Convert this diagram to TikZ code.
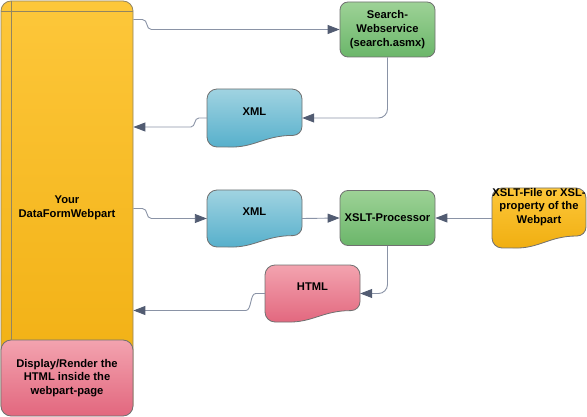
\documentclass[tikz,border=0pt]{standalone}
\usepackage{fontspec}
\setmainfont{Liberation Sans}
\usepackage{tikz}
\usetikzlibrary{arrows.meta}
\definecolor{edge}{HTML}{707070}
\definecolor{wire}{HTML}{8A93A6}
\definecolor{tip}{HTML}{525C72}
\definecolor{ytop}{HTML}{FDC73A}
\definecolor{ybot}{HTML}{F0AE10}
\definecolor{yedge}{HTML}{938560}
\definecolor{gtop}{HTML}{9DD296}
\definecolor{gbot}{HTML}{6BB66A}
\definecolor{btop}{HTML}{A0D3E1}
\definecolor{bbot}{HTML}{55AFCB}
\definecolor{ptop}{HTML}{F3A3AF}
\definecolor{pbot}{HTML}{E2677E}
\tikzset{
  lbl/.style={font=\bfseries\fontsize{11.2}{13.8}\selectfont, align=center, text=black},
  conn/.style={draw=wire, line width=0.9pt, -{Triangle[length=12pt,width=9pt,color=tip]}},
  procbox/.style={lbl, rounded corners=8pt, draw=edge, line width=0.8pt, top color=gtop, bottom color=gbot,
    minimum width=95pt, minimum height=55pt, inner sep=1pt},
  partbox/.style={lbl, rounded corners=10pt, draw=yedge, line width=0.8pt, top color=ytop, bottom color=ybot,
    minimum width=132pt, minimum height=414pt},
  dispbox/.style={lbl, rounded corners=10pt, draw=edge, line width=0.8pt, top color=ptop, bottom color=pbot,
    minimum width=132pt, minimum height=76pt},
  docedge/.style={draw=edge, line width=0.8pt},
  partline/.style={draw=yedge, line width=0.8pt}
}
\newcommand{\DocShape}[8]{% name, top-left, width, height, top colour, bottom colour, text shift, text
  \begin{scope}[shift={(#2)}]
    \shade[docedge, top color=#5, bottom color=#6]
      (0,10) .. controls (0,4.5) and (4.5,0) .. (10,0) -- (#3-10,0)
      .. controls (#3-4.5,0) and (#3,4.5) .. (#3,10)
      -- (#3,0.8*#4-9) .. controls (#3,0.8*#4-4) and (#3-4,0.8*#4) .. (#3-9,0.8*#4)
      .. controls (0.6*#3,0.8*#4) and (0.5*#3,1.02*#4) .. (0.22*#3,#4)
      -- (10,#4) .. controls (4.5,#4) and (0,#4-4.5) .. (0,#4-10) -- cycle;
    \node[inner sep=0pt, minimum width=#3, minimum height=#4,
      label={[lbl,yshift=#7pt]center:{#8}}] (#1) at (#3/2,#4/2) {};
  \end{scope}
}

\begin{document}
\begin{tikzpicture}[x=1pt,y=-1pt]
  \useasboundingbox (0,0) rectangle (587,417);

  % Webpart container
  \node[partbox] (dfw) at (67,208) {Your\\DataFormWebpart};
  \node[dispbox] (display) at (67,378) {Display/Render the\\HTML inside the\\webpart-page};
  \draw[partline] ([yshift=-11pt]dfw.north west) -- ([yshift=-11pt]dfw.north east);
  \draw[partline] ([xshift=11pt]dfw.north west) -- ([xshift=11pt]dfw.north west |- display.north);

  % Webservice request
  \node[procbox] (search) at (387.5,29.5) {Search-\\Webservice\\(search.asmx)};
  \DocShape{xml1}{207,89}{95}{58}{btop}{bbot}{6}{XML}

  % Transformation
  \DocShape{xml2}{207,190}{95}{57}{btop}{bbot}{7}{XML}
  \node[procbox] (xslt) at (387.5,218) {XSLT-Processor};
  \DocShape{xslfile}{492,188}{94}{60}{ytop}{ybot}{11}{XSLT-File or XSL-\\property of the\\Webpart}
  \DocShape{html}{265,265}{95}{57}{ptop}{pbot}{7}{HTML}

  % Connectors
  \draw[conn] ([yshift=10pt]dfw.east |- search.west) -- ++(9,0)
    .. controls +(6,0) and +(-6,0) .. ++(9,10) -- (search.west);
  \draw[conn, rounded corners=9pt] (search.south) |- (xml1.east);
  \draw[conn] (xml1.west) -- ++(-8,0)
    .. controls +(-5,0) and +(5,0) .. ++(-8,9) -- ([yshift=-9pt]dfw.east |- xml1.west);
  \draw[conn] ([yshift=10pt]dfw.east |- xml2.west) -- ++(9,0)
    .. controls +(6,0) and +(-6,0) .. ++(9,10) -- (xml2.west);
  \draw[conn] (xml2.east) -- (xslt.west);
  \draw[conn] (xslfile.west) -- (xslt.east);
  \draw[conn, rounded corners=9pt] (xslt.south) |- (html.east);
  \draw[conn] (html.west) -- ++(-9,0)
    .. controls +(-6,0) and +(6,0) .. ++(-10,17) -- ([yshift=-17pt]dfw.east |- html.west);
\end{tikzpicture}
\end{document}
